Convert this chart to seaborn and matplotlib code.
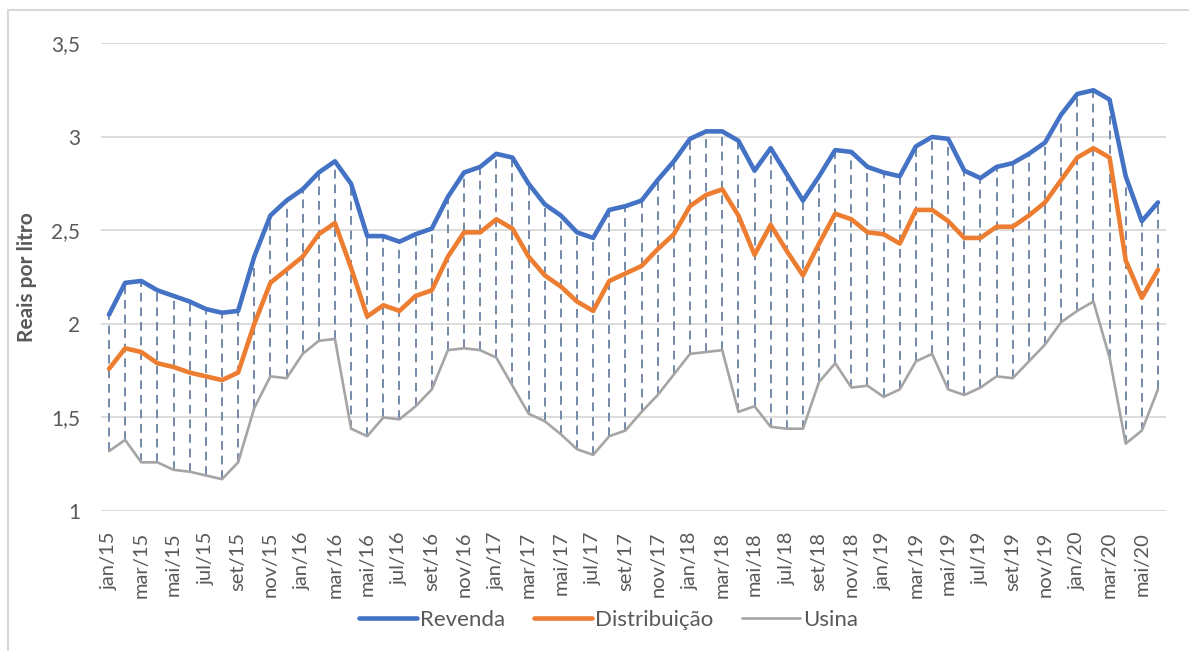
import matplotlib
matplotlib.use("Agg")
import matplotlib.pyplot as plt
from matplotlib.lines import Line2D
from matplotlib.patches import Rectangle
import seaborn as sns
import pandas as pd

# monthly prices, jan/15 .. jun/20 (R$ per litre)
meses = ['jan', 'fev', 'mar', 'abr', 'mai', 'jun', 'jul', 'ago', 'set', 'out', 'nov', 'dez']
anos = ['15', '16', '17', '18', '19', '20']
periodos = [f'{m}/{a}' for a in anos for m in meses][:66]

revenda = [2.05, 2.22, 2.23, 2.18, 2.15, 2.12, 2.08, 2.06, 2.07, 2.36, 2.58, 2.66,
           2.72, 2.81, 2.87, 2.75, 2.47, 2.47, 2.44, 2.48, 2.51, 2.68, 2.81, 2.84,
           2.91, 2.89, 2.75, 2.64, 2.58, 2.49, 2.46, 2.61, 2.63, 2.66, 2.77, 2.87,
           2.99, 3.03, 3.03, 2.98, 2.82, 2.94, 2.80, 2.66, 2.79, 2.93, 2.92, 2.84,
           2.81, 2.79, 2.95, 3.00, 2.99, 2.82, 2.78, 2.84, 2.86, 2.91, 2.97, 3.12,
           3.23, 3.25, 3.20, 2.79, 2.55, 2.65]
distribuicao = [1.76, 1.87, 1.85, 1.79, 1.77, 1.74, 1.72, 1.70, 1.74, 2.00, 2.22, 2.29,
                2.36, 2.48, 2.54, 2.30, 2.04, 2.10, 2.07, 2.15, 2.18, 2.36, 2.49, 2.49,
                2.56, 2.51, 2.36, 2.26, 2.20, 2.12, 2.07, 2.23, 2.27, 2.31, 2.40, 2.48,
                2.63, 2.69, 2.72, 2.58, 2.37, 2.53, 2.39, 2.26, 2.43, 2.59, 2.56, 2.49,
                2.48, 2.43, 2.61, 2.61, 2.55, 2.46, 2.46, 2.52, 2.52, 2.58, 2.65, 2.77,
                2.89, 2.94, 2.89, 2.34, 2.14, 2.29]
usina = [1.32, 1.38, 1.26, 1.26, 1.22, 1.21, 1.19, 1.17, 1.26, 1.55, 1.72, 1.71,
         1.84, 1.91, 1.92, 1.44, 1.40, 1.50, 1.49, 1.56, 1.65, 1.86, 1.87, 1.86,
         1.82, 1.67, 1.52, 1.48, 1.41, 1.33, 1.30, 1.40, 1.43, 1.53, 1.62, 1.73,
         1.84, 1.85, 1.86, 1.53, 1.56, 1.45, 1.44, 1.44, 1.69, 1.79, 1.66, 1.67,
         1.61, 1.65, 1.80, 1.84, 1.65, 1.62, 1.66, 1.72, 1.71, 1.80, 1.89, 2.01,
         2.07, 2.12, 1.82, 1.36, 1.43, 1.65]

series = ['Revenda', 'Distribuição', 'Usina']
cores = {'Revenda': '#4472C4', 'Distribuição': '#ED7D31', 'Usina': '#A5A5A5'}
larguras = {'Revenda': 3.3, 'Distribuição': 3.3, 'Usina': 1.9}

pos = list(range(len(periodos)))
df = pd.concat([
    pd.DataFrame({'pos': pos, 'valor': vals, 'serie': nome})
    for nome, vals in zip(series, [revenda, distribuicao, usina])
])

sns.set_style('white')
plt.rcParams['font.family'] = ['Lato', 'DejaVu Sans']
cinza = '#595959'

fig = plt.figure(figsize=(11.89, 6.51), dpi=100)
ax = fig.add_axes([0.0849, 0.2151, 0.8958, 0.7181])

# high-low lines between usina and revenda
ax.vlines(pos, usina, revenda, colors='#7489A8', linewidth=1.4,
          linestyles=(0, (4.5, 3)), zorder=1)

sns.lineplot(data=df, x='pos', y='valor', hue='serie', size='serie',
             palette=cores, sizes=larguras, hue_order=series[::-1],
             sort=False, legend=False, ax=ax, zorder=3)

ax.set_xlim(-0.5, len(periodos) - 0.5)
ax.set_ylim(1, 3.5)
ax.set_yticks([1, 1.5, 2, 2.5, 3, 3.5])
ax.set_yticklabels(['1', '1,5', '2', '2,5', '3', '3,5'])
ax.set_xticks(pos[::2])
ax.set_xticklabels(periodos[::2], rotation=90, va='top', ha='center')
ax.tick_params(axis='y', length=0, pad=15, labelsize=15, labelcolor=cinza)
ax.tick_params(axis='x', length=0, pad=15, labelsize=14.5, labelcolor=cinza)
ax.grid(axis='y', color='#D9D9D9', linewidth=1.3)
ax.set_axisbelow(True)
for s in ax.spines.values():
    s.set_visible(False)
ax.set_xlabel('')
ax.set_ylabel('Reais por litro', fontsize=15, fontweight='bold', color=cinza)
ax.yaxis.set_label_coords(-0.06, 0.5)

handles = [Line2D([], [], color=cores[n], linewidth=larguras[n], solid_capstyle='round')
           for n in series]
fig.legend(handles, series, loc='center', bbox_to_anchor=(0.512, 0.048), ncol=3,
           frameon=False, fontsize=16, labelcolor=cinza, handlelength=2.6,
           handletextpad=0.15, columnspacing=1.3)

# chart area border (left and top visible)
fig.patches.append(Rectangle((8 / 1189, -0.2), 1.2, 0.2 + 641 / 651,
                             transform=fig.transFigure, fill=False,
                             edgecolor='#D9D9D9', linewidth=1.5))

fig.savefig('out.png', dpi=100)
